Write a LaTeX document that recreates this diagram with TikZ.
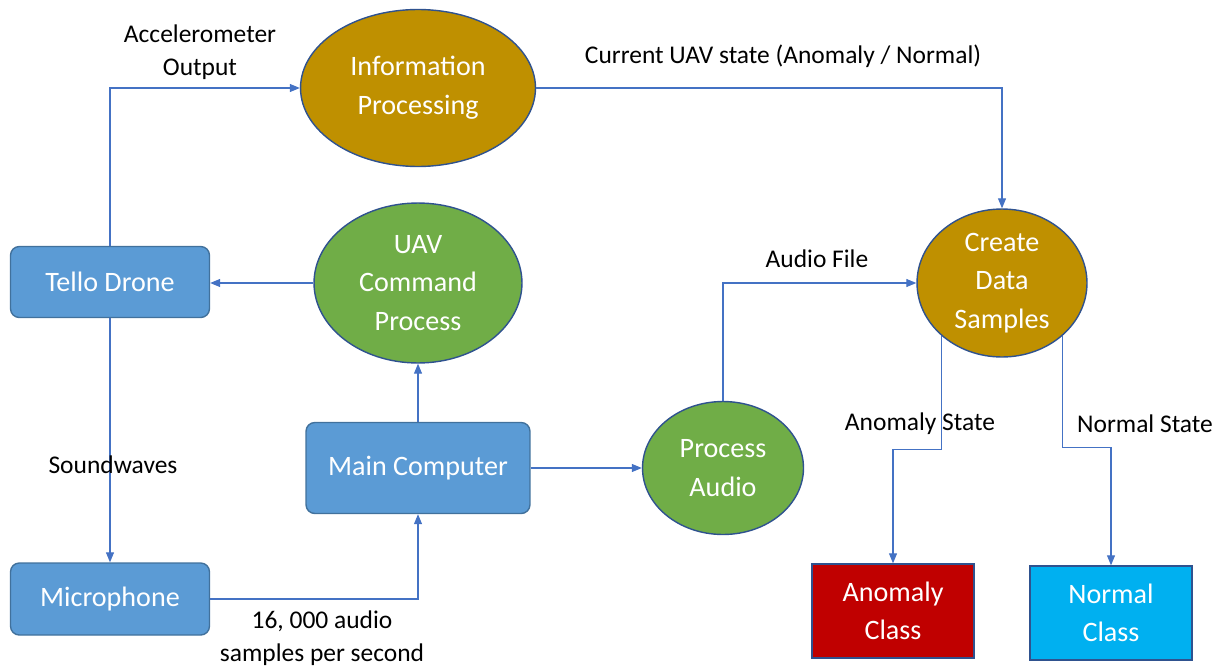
\documentclass[tikz,border=0pt]{standalone}
\usepackage{fontspec}
\setmainfont{Carlito}
\usetikzlibrary{shapes.geometric,arrows.meta}
\definecolor{boxblue}{HTML}{5B9BD5}
\definecolor{boxedge}{HTML}{41719C}
\definecolor{gold}{HTML}{BF9000}
\definecolor{leaf}{HTML}{70AD47}
\definecolor{ovaledge}{HTML}{2F528F}
\definecolor{anomred}{HTML}{C00000}
\definecolor{normcyan}{HTML}{00B0F0}
\definecolor{wire}{HTML}{4472C4}
\begin{document}
\begin{tikzpicture}[x=0.02cm,y=-0.02cm,font=\fontsize{16}{22}\selectfont,
        block/.style={draw=boxedge,fill=boxblue,text=white,rounded corners=5pt,line width=0.8pt,align=center,inner sep=0pt},
        oval/.style={ellipse,draw=ovaledge,line width=0.8pt,text=white,align=center,inner xsep=0pt,inner ysep=-6pt},
        classbox/.style={draw=ovaledge,line width=0.8pt,text=white,align=center,inner sep=0pt,minimum width=3.24cm,minimum height=1.88cm},
        flow/.style={draw=wire,line width=0.6pt,-{Triangle[length=2mm,width=1.6mm]}},
        lbl/.style={font=\fontsize{14.5}{18.7}\selectfont,align=center}]
        \useasboundingbox (0,0) rectangle (1219,666);
        \node [block,minimum width=3.98cm,minimum height=1.42cm] (tello) at (110,282) {Tello Drone};
        \node [block,minimum width=3.98cm,minimum height=1.44cm] (mic) at (110,599) {Microphone};
        \node [block,minimum width=4.48cm,minimum height=1.82cm] (main) at (418,468) {Main Computer};
        \node [oval,fill=gold,minimum width=4.7cm,minimum height=3.14cm] (info) at (418,88) {Information\\Processing};
        \node [oval,fill=leaf,minimum width=4.16cm,minimum height=3.2cm] (uav) at (418,283) {UAV\\Command\\Process};
        \node [oval,fill=leaf,minimum width=3.22cm,minimum height=2.66cm] (audio) at (723,468) {Process\\Audio};
        \node [oval,fill=gold,minimum width=3.4cm,minimum height=2.96cm] (create) at (1002,283) {Create\\Data\\Samples};
        \node [classbox,fill=anomred] (anom) at (893,611) {Anomaly\\Class};
        \node [classbox,fill=normcyan] (norm) at (1111,613) {Normal\\Class};
        \draw [flow] (tello.north) |- (info.west);
        \draw [flow] (info.east) -| (create.north);
        \draw [flow] (uav.west) -- (uav.west -| tello.east);
        \draw [flow] (main.north) -- (uav.south);
        \draw [flow] (tello.south) -- (mic.north);
        \draw [flow] (mic.east) -| (main.south);
        \draw [flow] (main.east) -- (audio.west);
        \draw [flow] (audio.north) |- (create.west);
        \draw [flow] (create.south west) -- ++(0,114) -| (anom.north);
        \draw [flow] (create.south east) -- ++(0,112) -| (norm.north);
        \node [lbl] (accel) at (200,52) {Accelerometer\\Output};
        \node [lbl] (state) at (783,56) {Current UAV state (Anomaly / Normal)};
        \node [lbl] (file) at (817,259) {Audio File};
        \node [lbl] (sound) at (113,465) {Soundwaves};
        \node [lbl] (rate) at (322,638) {16, 000 audio\\samples per second};
        \node [lbl] (anomstate) at (920,424) {Anomaly State};
        \node [lbl] (normstate) at (1145,424) {Normal State};
    \end{tikzpicture}
\end{document}
